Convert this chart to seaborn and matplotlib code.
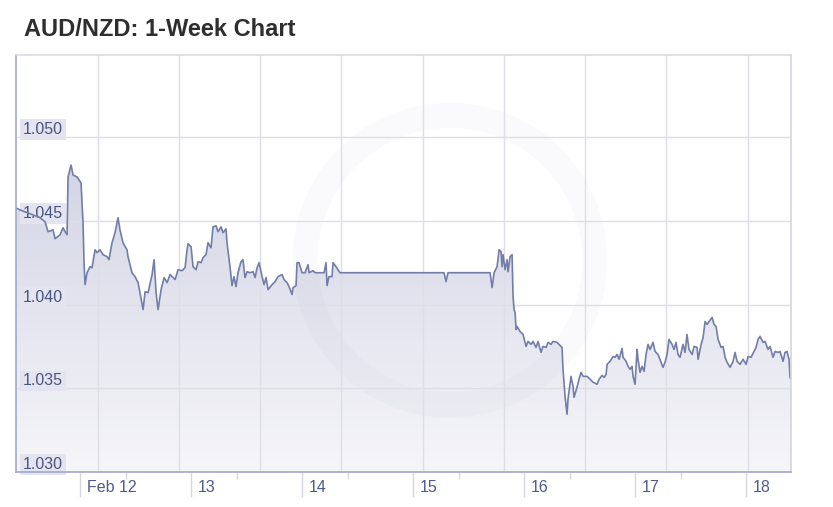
import numpy as np
import seaborn as sns
import matplotlib.pyplot as plt
from matplotlib.colors import LinearSegmentedColormap
from matplotlib.patches import Ellipse
from matplotlib.transforms import ScaledTranslation

# x = day of February (fractional), y = AUD/NZD rate
DAYS = [11.423, 11.459, 11.550, 11.640, 11.685, 11.712, 11.757, 11.775, 11.820, 11.847,
        11.865, 11.883, 11.892, 11.919, 11.937, 11.973, 11.991, 12.009, 12.027, 12.036,
        12.045, 12.063, 12.090, 12.108, 12.135, 12.153, 12.180, 12.207, 12.243, 12.261,
        12.288, 12.315, 12.342, 12.360, 12.387, 12.423, 12.432, 12.468, 12.495, 12.523,
        12.568, 12.586, 12.613, 12.649, 12.667, 12.685, 12.703, 12.730, 12.757, 12.784,
        12.811, 12.856, 12.883, 12.919, 12.946, 12.964, 12.973, 13.000, 13.018, 13.045,
        13.063, 13.090, 13.108, 13.135, 13.153, 13.180, 13.198, 13.225, 13.243, 13.270,
        13.288, 13.315, 13.324, 13.351, 13.369, 13.387, 13.405, 13.423, 13.450, 13.468,
        13.486, 13.505, 13.532, 13.559, 13.577, 13.595, 13.613, 13.640, 13.658, 13.676,
        13.694, 13.730, 13.757, 13.784, 13.820, 13.838, 13.865, 13.883, 13.910, 13.919,
        13.946, 13.955, 13.973, 14.000, 14.027, 14.054, 14.063, 14.099, 14.117, 14.198,
        14.216, 14.225, 14.243, 14.270, 14.279, 14.306, 14.342, 15.279, 15.297, 15.315,
        15.694, 15.712, 15.730, 15.757, 15.775, 15.793, 15.802, 15.811, 15.829, 15.847,
        15.856, 15.874, 15.892, 15.901, 15.910, 15.919, 15.928, 15.937, 15.964, 15.991,
        16.018, 16.036, 16.063, 16.081, 16.108, 16.126, 16.153, 16.171, 16.198, 16.216,
        16.243, 16.261, 16.297, 16.315, 16.342, 16.351, 16.369, 16.387, 16.396, 16.423,
        16.441, 16.450, 16.477, 16.495, 16.514, 16.532, 16.568, 16.595, 16.622, 16.658,
        16.676, 16.703, 16.721, 16.739, 16.748, 16.775, 16.802, 16.820, 16.838, 16.856,
        16.883, 16.892, 16.919, 16.937, 16.955, 16.973, 16.982, 17.000, 17.018, 17.027,
        17.045, 17.063, 17.081, 17.099, 17.117, 17.135, 17.162, 17.180, 17.207, 17.234,
        17.252, 17.270, 17.288, 17.306, 17.333, 17.351, 17.369, 17.387, 17.405, 17.432,
        17.450, 17.468, 17.486, 17.514, 17.532, 17.559, 17.568, 17.595, 17.613, 17.631,
        17.649, 17.667, 17.694, 17.712, 17.730, 17.748, 17.775, 17.793, 17.811, 17.829,
        17.856, 17.883, 17.901, 17.919, 17.946, 17.973, 18.000, 18.018, 18.045, 18.072,
        18.090, 18.108, 18.126, 18.153, 18.171, 18.198, 18.216, 18.243, 18.261, 18.288,
        18.306, 18.333, 18.351, 18.369, 18.387, 18.396, 18.405]

RATES = [1.04577, 1.04565, 1.04542, 1.04518, 1.04494, 1.04435, 1.04446, 1.04393, 1.04417, 1.04458,
         1.04435, 1.04417, 1.04762, 1.04833, 1.04774, 1.04762, 1.04744, 1.04726, 1.04488, 1.04250,
         1.04119, 1.04190, 1.04226, 1.04220, 1.04327, 1.04310, 1.04327, 1.04298, 1.04286, 1.04268,
         1.04369, 1.04429, 1.04518, 1.04446, 1.04369, 1.04327, 1.04286, 1.04190, 1.04167, 1.04131,
         1.03970, 1.04077, 1.04071, 1.04179, 1.04268, 1.04071, 1.03970, 1.04089, 1.04161, 1.04131,
         1.04179, 1.04149, 1.04208, 1.04202, 1.04220, 1.04327, 1.04363, 1.04345, 1.04226, 1.04208,
         1.04256, 1.04250, 1.04280, 1.04298, 1.04369, 1.04339, 1.04464, 1.04470, 1.04435, 1.04464,
         1.04429, 1.04452, 1.04369, 1.04226, 1.04113, 1.04167, 1.04107, 1.04190, 1.04256, 1.04268,
         1.04161, 1.04196, 1.04190, 1.04196, 1.04161, 1.04220, 1.04250, 1.04167, 1.04119, 1.04161,
         1.04089, 1.04119, 1.04137, 1.04167, 1.04179, 1.04149, 1.04131, 1.04107, 1.04060, 1.04101,
         1.04113, 1.04250, 1.04250, 1.04190, 1.04190, 1.04238, 1.04190, 1.04202, 1.04190, 1.04190,
         1.04250, 1.04113, 1.04167, 1.04167, 1.04250, 1.04226, 1.04190, 1.04190, 1.04137, 1.04190,
         1.04190, 1.04101, 1.04190, 1.04226, 1.04327, 1.04316, 1.04226, 1.04298, 1.04208, 1.04268,
         1.04196, 1.04286, 1.04298, 1.04048, 1.03970, 1.03952, 1.03851, 1.03869, 1.03839, 1.03821,
         1.03750, 1.03780, 1.03762, 1.03780, 1.03744, 1.03780, 1.03714, 1.03750, 1.03744, 1.03774,
         1.03762, 1.03780, 1.03774, 1.03762, 1.03744, 1.03613, 1.03452, 1.03345, 1.03435, 1.03571,
         1.03512, 1.03446, 1.03506, 1.03554, 1.03595, 1.03571, 1.03571, 1.03554, 1.03536, 1.03524,
         1.03554, 1.03577, 1.03565, 1.03583, 1.03643, 1.03661, 1.03690, 1.03685, 1.03702, 1.03673,
         1.03738, 1.03685, 1.03661, 1.03631, 1.03613, 1.03631, 1.03571, 1.03524, 1.03732, 1.03673,
         1.03595, 1.03631, 1.03601, 1.03702, 1.03762, 1.03732, 1.03774, 1.03720, 1.03702, 1.03655,
         1.03625, 1.03655, 1.03702, 1.03792, 1.03762, 1.03732, 1.03774, 1.03702, 1.03685, 1.03762,
         1.03714, 1.03821, 1.03732, 1.03702, 1.03750, 1.03744, 1.03673, 1.03762, 1.03804, 1.03899,
         1.03881, 1.03899, 1.03923, 1.03881, 1.03869, 1.03792, 1.03744, 1.03750, 1.03685, 1.03655,
         1.03625, 1.03661, 1.03714, 1.03661, 1.03643, 1.03673, 1.03643, 1.03690, 1.03685, 1.03720,
         1.03744, 1.03792, 1.03810, 1.03774, 1.03780, 1.03732, 1.03750, 1.03685, 1.03720, 1.03714,
         1.03720, 1.03661, 1.03714, 1.03720, 1.03673, 1.03565, 1.03554]

Y_TICKS = [1.030, 1.035, 1.040, 1.045, 1.050]
Y_LABELS = ['1.030', '1.035', '1.040', '1.045', '1.050']
X_TICKS = [12, 13, 14, 15, 16, 17, 18]
X_LABELS = ['Feb 12', '13', '14', '15', '16', '17', '18']
X_MINOR = [12.415, 13.415, 14.415, 15.415, 16.415, 17.415]
GRID_DAYS = [12.162, 12.892, 13.622, 14.351, 15.090, 15.820, 16.550, 17.279, 18.018]

XMIN, XMAX = 11.423, 18.405
YMIN, YMAX = 1.030, 1.0549

sns.set_style('white')
plt.rcParams['font.family'] = ['Liberation Sans', 'DejaVu Sans']

fig = plt.figure(figsize=(8.33, 5.07), dpi=100)
ax = fig.add_axes([0.0192, 0.069, 0.9304, 0.8225])

# gradient fill under the line
poly = ax.fill_between(DAYS, RATES, YMIN, facecolor='none', edgecolor='none')
fade = LinearSegmentedColormap.from_list('fade', ['#f6f6f9', '#c6c9de'])
grad = np.linspace(0, 1, 256).reshape(-1, 1)
im = ax.imshow(grad, extent=[XMIN, XMAX, YMIN, YMAX], origin='lower',
               aspect='auto', cmap=fade, zorder=0.2)
im.set_clip_path(poly.get_paths()[0], transform=ax.transData)

# faint watermark ring
ax.add_patch(Ellipse((0.560, 0.508), 0.374, 0.695, transform=ax.transAxes,
                     fill=False, ec='#7d86b0', alpha=0.035, lw=18, zorder=0.3))

sns.lineplot(x=DAYS, y=RATES, ax=ax, color='#737ea8', lw=1.2,
             estimator=None, sort=False, zorder=2)

for gx in GRID_DAYS:
    ax.axvline(gx, color='#dedee6', lw=1, zorder=0.5)

ax.set_xlim(XMIN, XMAX)
ax.set_ylim(YMIN, YMAX)
ax.set_axisbelow(True)
ax.grid(axis='y', color='#dedee6', lw=1)
ax.grid(axis='x', visible=False)

ax.set_yticks(Y_TICKS)
ax.set_yticklabels(Y_LABELS)
ax.tick_params(axis='y', length=0, pad=-5, labelsize=11.5, labelcolor='#4a5580')
for lab in ax.get_yticklabels():
    lab.set_ha('left')
    lab.set_va('bottom')
    lab.set_bbox(dict(facecolor='#e3e4ef', edgecolor='none', pad=2))

ax.set_xticks(X_TICKS)
ax.set_xticklabels(X_LABELS)
ax.set_xticks(X_MINOR, minor=True)
ax.tick_params(axis='x', which='major', direction='out', length=18, width=1,
               color='#d6d7e0', pad=-12, labelsize=11.5, labelcolor='#4f5b8c', bottom=True)
ax.tick_params(axis='x', which='minor', direction='out', length=5, width=1,
               color='#d6d7e0', bottom=True)
shift = ScaledTranslation(0.07, 0, fig.dpi_scale_trans)
for lab in ax.get_xticklabels():
    lab.set_ha('left')
    lab.set_transform(lab.get_transform() + shift)

ax.set_xlabel('')
ax.set_ylabel('')
for side, col in [('left', '#a3a8cc'), ('bottom', '#a3a8cc'), ('top', '#dcdce2'), ('right', '#d4d4dc')]:
    ax.spines[side].set_visible(True)
    ax.spines[side].set_color(col)
    ax.spines[side].set_linewidth(1.2)

fig.text(0.029, 1 - 30 / 507, 'AUD/NZD: 1-Week Chart', fontsize=17, fontweight='bold',
         color='#2e2e2e', va='center', ha='left')

fig.savefig('out.png', dpi=100)
